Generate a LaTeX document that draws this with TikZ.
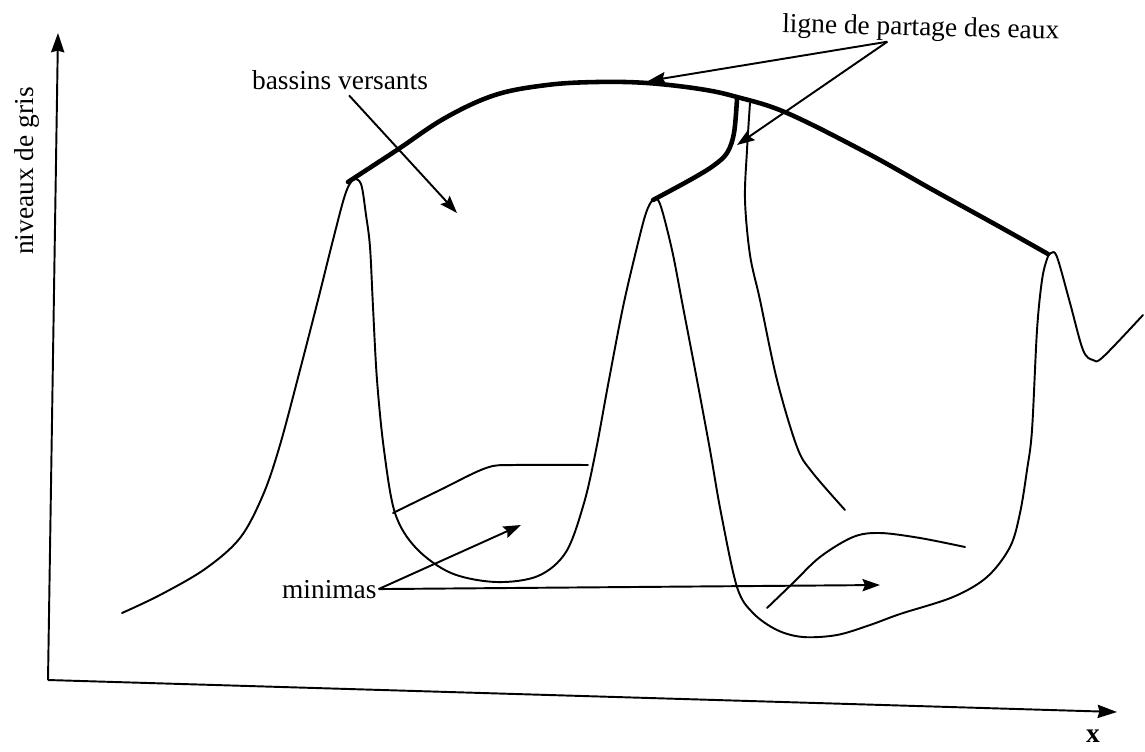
\documentclass[tikz,border=0pt]{standalone}
\usepackage{fontspec}
\setmainfont{Liberation Serif}
\usetikzlibrary{arrows.meta,calc}
\begin{document}
\begin{tikzpicture}[x=0.02cm,y=-0.02cm,
  curve/.style={line width=1.1pt, line cap=round, line join=round},
  ridge/.style={line width=2.6pt, line cap=round, line join=round},
  pointer/.style={line width=1.1pt, -{Stealth[length=10pt,width=7pt,inset=1.5pt]}},
  axisline/.style={line width=1.1pt, -{Stealth[length=11pt,width=7.5pt,inset=1pt]}},
  lbl/.style={font=\fontsize{15.6}{18}\selectfont, inner sep=1pt}]
\useasboundingbox (0,0) rectangle (1145,751);

% axes
\coordinate (origin) at (48,680);
\coordinate (ytip) at (58,33);
\coordinate (xtip) at (1117,712);
\draw[axisline] (origin) -- (ytip);
\draw[axisline] (origin) -- (xtip);
\node[lbl, rotate=90, anchor=base] (ng) at (33,171) {niveaux de gris};
\node[lbl, font=\fontsize{15.6}{18}\selectfont\bfseries] (xl) at (1093,736) {x};

% profile curves
\draw[curve] plot[smooth, tension=0.55] coordinates {
  (122,613) (160,595) (205,569) (240,538) (263,495) (280,445) (300,370)
  (318,300) (333,240) (345,195) (353,180) (361,184)
  (366,215) (370,247) (373,307) (377,380) (384,450) (395,513) (416,548)
  (451,573) (496,582) (538,576) (566,552) (584,503) (596,450) (608,385)
  (623,307) (637,247) (646,213) (653,200) (660,204) (672,250) (683,307)
  (697,380) (710,450) (721,513) (737,587) (753,613) (777,630) (803,637)
  (837,635) (870,625) (900,614) (953,597) (987,577) (1010,547) (1020,513)
  (1027,470) (1032,430) (1037,330) (1042,280) (1047,259) (1051,253)
  (1057,257) (1070,303) (1083,350) (1093,360) (1103,357) (1143,315)};

% inner thin line
\draw[curve] plot[smooth, tension=0.55] coordinates {
  (750,103) (747,150) (745,200) (750,255) (760,300) (777,380) (797,447)
  (812,472) (845,510)};

% minima curves
\draw[curve] plot[smooth, tension=0.55] coordinates {
  (393,513) (440,490) (486,468) (514,465) (588,465)};
\draw[curve] plot[smooth, tension=0.55] coordinates {
  (767,608) (793,583) (820,557) (853,537) (880,533) (920,538) (965,547)};

% watershed lines
\draw[ridge] plot[smooth, tension=0.6] coordinates {
  (348,182) (397,150) (445,118) (495,95) (547,85) (597,82) (647,83)
  (700,89) (737,97) (787,113) (867,153) (933,190) (1000,227) (1048,254)};
\draw[ridge] plot[smooth, tension=0.55] coordinates {
  (737,99) (734,133) (727,153) (713,166) (690,180) (653,200)};

% labels and pointers
\node[lbl, anchor=base west] (bv) at (250,89) {bassins versants};
\coordinate (bvtip) at (457,213);
\draw[pointer] ($(bv.south)+(9,4)$) -- (bvtip);

\node[lbl, anchor=base west, rotate=-1.5] (lp) at (780,32) {ligne de partage des eaux};
\coordinate (lpsrc) at ($(lp.south)+(-33,-2)$);
\coordinate (lptip1) at (648,81);
\coordinate (lptip2) at (737,145);
\draw[pointer] (lpsrc) -- (lptip1);
\draw[pointer] (lpsrc) -- (lptip2);

\node[lbl, anchor=base west] (mn) at (280,598) {minimas};
\coordinate (mntip1) at (521,525);
\coordinate (mntip2) at (880,585);
\draw[pointer] (mn.east) -- (mntip1);
\draw[pointer] (mn.east) -- (mntip2);
\end{tikzpicture}
\end{document}
